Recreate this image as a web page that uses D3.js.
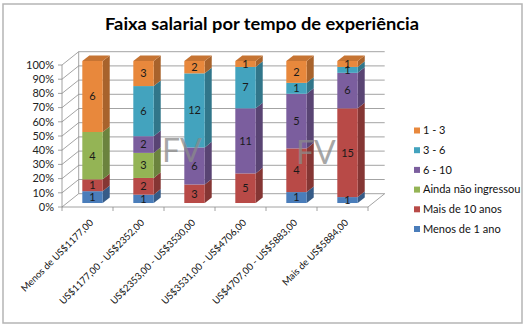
<!DOCTYPE html>
<html><head><meta charset="utf-8">
<script src="https://cdn.jsdelivr.net/npm/d3@7"></script>
<style>body{margin:0;background:#fff}svg{display:block}text{font-family:Lato,"Open Sans",sans-serif}</style>
</head><body>
<svg id="c" width="526" height="326"></svg>
<script>
const categories = ["Menos de US$1177,00","US$1177,00 - US$2352,00","US$2353,00 - US$3530,00","US$3531,00 - US$4706,00","US$4707,00 - US$5883,00","Mais de US$5884,00"];
// stack order bottom -> top
const seriesNames = ["Menos de 1 ano","Mais de 10 anos","Ainda não ingressou","6 - 10","3 - 6","1 - 3"];
const menos1   = [1,1,0,0,1,1];
const mais10   = [1,2,3,5,4,15];
const ainda    = [4,3,0,0,0,0];
const s6_10    = [0,2,6,11,5,6];
const s3_6     = [0,6,12,7,1,1];
const s1_3     = [6,3,2,1,2,1];
const seriesValues = [menos1, mais10, ainda, s6_10, s3_6, s1_3];
const colors = ["#4A7DBA","#B84A47","#94B455","#7B5E9E","#43A3BE","#E8883C"];
const legendOrder = ["1 - 3","3 - 6","6 - 10","Ainda não ingressou","Mais de 10 anos","Menos de 1 ano"];
const yTicks = [0,0.1,0.2,0.3,0.4,0.5,0.6,0.7,0.8,0.9,1];
const title = "Faixa salarial por tempo de experiência";

const svg = d3.select("#c");
svg.append("rect").attr("x",3).attr("y",4).attr("width",519).attr("height",319)
  .attr("fill","#fff").attr("stroke","#B5B5B5").attr("stroke-width",1.5);

svg.append("text").attr("x",262).attr("y",30).attr("text-anchor","middle")
  .attr("font-size",17.5).attr("font-weight","bold").attr("fill","#000")
  .attr("textLength",314).attr("lengthAdjust","spacingAndGlyphs").text(title);

const x = d3.scaleBand().domain(categories).range([62,368]).padding(0);
const y = d3.scaleLinear().domain([0,1]).range([207,65]);
const D = {x:16.7, y:-13.3};
const fFront = 0.3, fDepth = 0.42;
const bw = x.bandwidth()*0.4;
const gridCol = "#8C8C8C";

const g = svg.append("g");
yTicks.forEach(t=>{
  const yy = y(t);
  g.append("line").attr("x1",62).attr("y1",yy).attr("x2",62+D.x).attr("y2",yy+D.y).attr("stroke",gridCol).attr("stroke-width",0.8);
  g.append("line").attr("x1",62+D.x).attr("y1",yy+D.y).attr("x2",368+D.x).attr("y2",yy+D.y).attr("stroke",gridCol).attr("stroke-width",0.8);
  g.append("line").attr("x1",58).attr("y1",yy).attr("x2",62).attr("y2",yy).attr("stroke",gridCol).attr("stroke-width",0.8);
  g.append("text").attr("x",54).attr("y",yy).attr("dy","0.35em").attr("text-anchor","end")
    .attr("font-size",11).attr("fill","#222").text(Math.round(t*100)+"%");
});
g.append("line").attr("x1",62+D.x).attr("y1",y(0)+D.y).attr("x2",62+D.x).attr("y2",y(1)+D.y).attr("stroke",gridCol).attr("stroke-width",0.8);
g.append("path").attr("d",`M62,${y(0)} L368,${y(0)} L${368+D.x},${y(0)+D.y}`).attr("fill","none").attr("stroke",gridCol).attr("stroke-width",0.8);
g.append("line").attr("x1",62).attr("y1",y(0)).attr("x2",62).attr("y2",y(1)).attr("stroke",gridCol).attr("stroke-width",0.8);
categories.concat(["end"]).forEach((c,i)=>{
  const xx = i<categories.length ? x(c) : x(categories[categories.length-1])+x.bandwidth();
  g.append("line").attr("x1",xx).attr("y1",y(0)).attr("x2",xx).attr("y2",y(0)+4).attr("stroke",gridCol).attr("stroke-width",0.8);
});

const labels = [];
const dx = D.x*fDepth, dy = D.y*fDepth;
categories.forEach((c,ci)=>{
  const total = d3.sum(seriesValues, s=>s[ci]);
  const x0 = x(c) + (x.bandwidth()-bw)/2 + D.x*fFront;
  const x1 = x0 + bw;
  let cum = 0;
  let topY = null, topCol = null;
  seriesValues.forEach((s,si)=>{
    const v = s[ci];
    if(!v) return;
    const yb = y(cum/total) + D.y*fFront;
    cum += v;
    const yt = y(cum/total) + D.y*fFront;
    const col = d3.color(colors[si]);
    g.append("path").attr("d",`M${x1},${yb} L${x1+dx},${yb+dy} L${x1+dx},${yt+dy} L${x1},${yt}Z`)
      .attr("fill",col.darker(0.9));
    g.append("rect").attr("x",x0).attr("y",yt).attr("width",bw).attr("height",yb-yt).attr("fill",col);
    labels.push({x:(x0+x1)/2, y:(yt+yb)/2, v});
    topY = yt; topCol = col;
  });
  g.append("path").attr("d",`M${x0},${topY} L${x1},${topY} L${x1+dx},${topY+dy} L${x0+dx},${topY+dy}Z`)
    .attr("fill",topCol.darker(0.45));
  const cx = x(c) + x.bandwidth()/2 + 4;
  g.append("text").attr("transform",`translate(${cx},${y(0)+14}) rotate(-45)`)
    .attr("text-anchor","end").attr("dy","0.35em").attr("font-size",9.6).attr("fill","#111").text(c);
});

// watermark
[162,296].forEach((px,i)=>{
  svg.append("text").attr("x",px).attr("y",i===0?162:164).attr("font-size",32).attr("fill","#8a8a8a").attr("fill-opacity",0.75)
    .attr("font-family","'Liberation Sans',Arial,sans-serif").text("FV");
});

// bar value labels on top
labels.forEach(l=>{
  svg.append("text").attr("x",l.x).attr("y",l.y).attr("dy","0.35em").attr("text-anchor","middle")
    .attr("font-size",11).attr("fill","#1a1a1a").text(l.v);
});

const lg = svg.append("g");
legendOrder.forEach((name,i)=>{
  const si = seriesNames.indexOf(name);
  const yy = 130.5 + i*19.7;
  lg.append("rect").attr("x",414).attr("y",yy-3).attr("width",6).attr("height",6).attr("fill",colors[si]);
  lg.append("text").attr("x",423).attr("y",yy).attr("dy","0.35em").attr("font-size",11).attr("fill","#111").text(name);
});
</script>
</body></html>
